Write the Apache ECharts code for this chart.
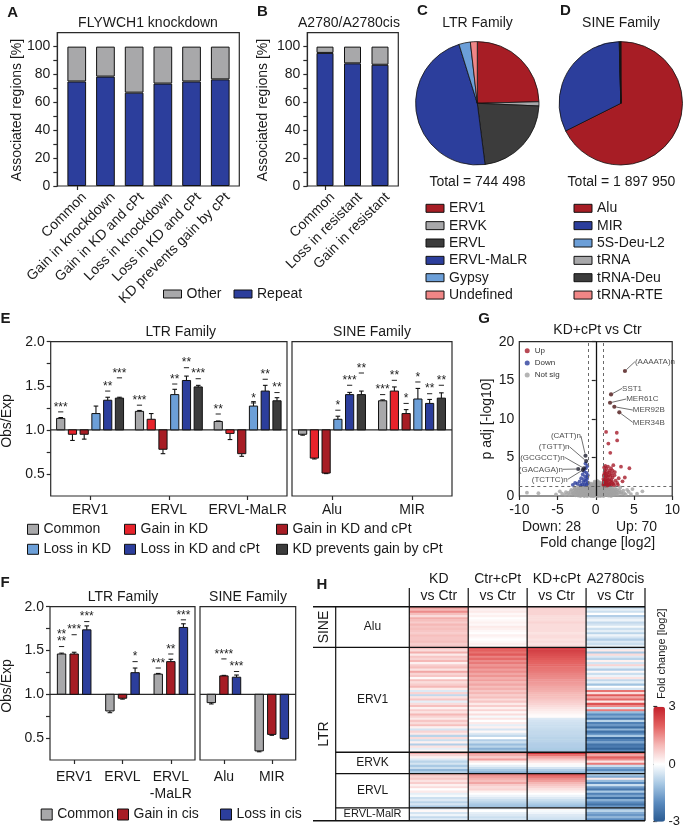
<!DOCTYPE html>
<html>
<head>
<meta charset="utf-8">
<title>Repeat association figure</title>
<script src="https://cdn.jsdelivr.net/npm/echarts@6.0.0/dist/echarts.min.js"></script>
<style>
html,body{margin:0;padding:0;background:#ffffff;}
#chart{width:683px;height:829px;}
</style>
</head>
<body>
<div id="chart"></div>
<script>
// ================= DATA =================
// Panel A
const aCategories = ['Common','Gain in knockdown','Gain in KD and cPt','Loss in knockdown','Loss in KD and cPt','KD prevents gain by cPt'];
const aRepeat = [75, 78.5, 67, 73.5, 75, 76.5];
const aOther  = [25, 21.5, 33, 26.5, 25, 23.5];
// Panel B
const bCategories = ['Common','Loss in resistant','Gain in resistant'];
const bRepeat = [95.5, 88, 87];
const bOther  = [4.5, 12, 13];
const yPercentTicks = [0,10,20,30,40,50,60,70,80,90,100];
const yPercentLabels = [0,20,40,60,80,100];
// Panel C / D
const ltrNames = ['ERV1','ERVK','ERVL','ERVL-MaLR','Gypsy','Undefined'];
const ltrShare = [24.6, 1.1, 22.3, 47.2, 3.0, 1.8];
const ltrTotal = 744498;
const sineNames = ['Alu','MIR','5S-Deu-L2','tRNA','tRNA-Deu','tRNA-RTE'];
const sineShare = [67.6, 32.0, 0.1, 0.1, 0.15, 0.05];
const sineTotal = 1897950;
// Panel E  (groups: ERV1, ERVL, ERVL-MaLR | Alu, MIR)
const eLtrGroups = ['ERV1','ERVL','ERVL-MaLR'];
const eSineGroups = ['Alu','MIR'];
const eSeriesNames = ['Common','Gain in KD','Gain in KD and cPt','Loss in KD','Loss in KD and cPt','KD prevents gain by cPt'];
const eCommon     = [1.13, 1.21, 1.095, 0.95, 1.33];
const eGainKD     = [0.95, 1.12, 0.96, 0.68, 1.44];
const eGainKDcPt  = [0.95, 0.78, 0.73, 0.51, 1.185];
const eLossKD     = [1.185, 1.40, 1.27, 1.12, 1.35];
const eLossKDcPt  = [1.336, 1.56, 1.44, 1.40, 1.30];
const eKDprevents = [1.36, 1.487, 1.33, 1.40, 1.36];
const eCommonErr     = [0.01, 0.01, 0.006, 0.01, 0.01];
const eGainKDErr     = [0.07, 0.065, 0.07, 0.01, 0.047];
const eGainKDcPtErr  = [0.055, 0.05, 0.03, 0.006, 0.045];
const eLossKDErr     = [0.085, 0.06, 0.05, 0.035, 0.12];
const eLossKDcPtErr  = [0.034, 0.05, 0.065, 0.025, 0.045];
const eKDpreventsErr = [0.01, 0.018, 0.035, 0.04, 0.06];
const eCommonSig     = [['***',1.204],['***',1.28],['**',1.18],null,['***',1.40]];
const eGainKDSig     = [null,null,null,null,['**',1.562]];
const eGainKDcPtSig  = [null,null,null,null,['*',1.30]];
const eLossKDSig     = [null,['**',1.52],['*',1.305],['*',1.223],['*',1.543]];
const eLossKDcPtSig  = [['**',1.44],['**',1.705],['**',1.574],['***',1.506],['**',1.41]];
const eKDpreventsSig = [['***',1.59],['***',1.58],['**',1.423],['**',1.645],['**',1.506]];
const obsExpTicks = [0.5,0.75,1,1.25,1.5,1.75,2];
const obsExpLabels = [0.5,1,1.5,2];
// Panel F
const fLtrGroups = ['ERV1','ERVL','ERVL\n-MaLR'];
const fSineGroups = ['Alu','MIR'];
const fSeriesNames = ['Common','Gain in cis','Loss in cis'];
const fCommon = [1.46, 0.81, 1.23, 0.905, 0.354];
const fGain   = [1.46, 0.955, 1.373, 1.21, 0.542];
const fLoss   = [1.736, 1.247, 1.763, 1.195, 0.496];
const fCommonErr = [0.01, 0.02, 0.008, 0.015, 0.01];
const fGainErr   = [0.02, 0.01, 0.027, 0.006, 0.01];
const fLossErr   = [0.045, 0.053, 0.042, 0.025, 0.006];
const fCommonSig = [['**\n**',1.545], null, ['***',1.30], null, null];
const fGainSig   = [['***',1.68], null, ['**',1.46], ['****',1.404], null];
const fLossSig   = [['***',1.83], ['*',1.373], ['***',1.85], ['***',1.26], null];
// Panel G (volcano: fold change log2, -log10 padj)
const gUp = [
[1.35,8.3],[2.75,8.2],[2.8,7.2],[1.65,6.8],[1.9,5.6],[3.3,3.8],[4.4,3.6],[2.3,4.0],
[1.1,3.7],[1.25,3.9],[1.4,3.5],[1.6,3.8],[1.8,3.3],[2.0,3.6],[1.15,3.1],[1.3,2.9],
[1.5,3.0],[1.7,2.7],[2.1,2.9],[2.5,3.1],[1.05,2.6],[1.2,2.4],[1.35,2.2],[1.55,2.5],
[1.8,2.2],[2.2,2.4],[2.6,2.0],[3.0,2.3],[1.1,2.0],[1.25,1.9],[1.4,1.8],[1.6,1.7],
[1.9,1.9],[2.3,1.6],[2.8,1.7],[3.5,1.9],[1.05,1.6],[1.2,1.55],[1.35,1.5],[1.5,1.45],
[1.7,1.5],[2.0,1.4],[2.4,1.4],[1.15,1.4],[1.3,1.65],[1.45,2.0],[1.0,1.45],[1.85,1.6],
[2.15,1.75],[1.6,2.1],[1.95,2.6],[2.45,2.7],[1.1,2.8],[1.75,3.05],[3.8,2.4],[2.9,1.45],
[1.05,1.85],[1.25,1.35],[1.5,1.35],[1.8,1.4],[2.05,2.05],[1.4,2.6],[1.2,3.3],[2.2,3.3],[1.0,2.2]
];
const gDown = [
[-1.1,3.9],[-1.3,3.6],[-1.5,3.2],[-1.2,3.0],[-1.05,2.7],[-1.4,2.5],[-1.7,2.8],[-1.9,2.3],
[-1.15,2.2],[-1.3,1.95],[-1.6,1.8],[-2.1,1.9],[-2.4,1.6],[-1.05,1.7],[-1.2,1.5],[-1.45,1.45],
[-1.8,1.5],[-2.7,1.7],[-3.0,1.45],[-1.1,2.45],[-1.55,2.1],[-2.0,1.4],[-1.35,4.2]
];
const gNotSig = [
[-9.0,0.43],[-7.5,0.37],[-5.2,0.2],[-4.4,0.3],[-3.9,0.5],[-3.5,0.15],[-3.2,0.8],[-3.0,0.35],[-2.8,1.1],[-2.7,0.6],
[-2.6,0.2],[-2.5,0.9],[-2.4,0.45],[-2.3,1.2],[-2.2,0.7],[-2.1,0.25],[-2.0,1.0],[-2.0,0.5],[-1.9,0.8],[-1.9,0.15],
[-1.8,1.15],[-1.8,0.4],[-1.7,0.65],[-1.7,0.1],[-1.6,0.95],[-1.6,0.3],[-1.5,1.25],[-1.5,0.55],[-1.4,0.8],[-1.4,0.2],
[-1.35,1.05],[-1.3,0.45],[-1.25,0.7],[-1.2,0.1],[-1.15,0.9],[-1.1,0.35],[-1.05,1.2],[-1.0,0.6],[-0.95,1.5],[-0.9,0.25],
[-0.9,0.85],[-0.85,1.1],[-0.8,0.45],[-0.75,0.05],[-0.7,1.35],[-0.7,0.7],[-0.65,0.3],[-0.6,0.95],[-0.55,1.6],[-0.5,0.5],
[-0.5,0.15],[-0.45,1.2],[-0.4,0.8],[-0.35,0.35],[-0.3,1.45],[-0.3,0.6],[-0.25,0.05],[-0.2,1.0],[-0.15,0.4],[-0.1,1.7],
[-0.1,0.75],[-0.05,0.2],[0.0,1.25],[0.05,0.55],[0.1,0.9],[0.1,0.1],[0.15,1.5],[0.2,0.35],[0.25,1.1],[0.3,0.65],
[0.3,0.05],[0.35,1.8],[0.4,0.45],[0.45,0.95],[0.5,1.3],[0.5,0.2],[0.55,0.7],[0.6,1.55],[0.65,0.4],[0.7,1.05],
[0.7,0.1],[0.75,0.8],[0.8,1.4],[0.85,0.3],[0.9,0.6],[0.9,1.15],[0.95,0.2],[1.0,0.9],[1.05,0.45],[1.1,1.2],
[1.15,0.7],[1.2,0.15],[1.25,1.0],[1.3,0.5],[1.35,0.85],[1.4,0.25],[1.5,1.1],[1.55,0.6],[1.6,0.35],[1.7,0.9],
[1.75,0.1],[1.8,1.2],[1.85,0.55],[1.9,0.3],[2.0,0.8],[2.1,1.05],[2.2,0.4],[2.3,0.7],[2.4,0.15],[2.5,1.0],
[2.6,0.5],[2.7,0.25],[2.8,0.85],[3.0,0.45],[3.2,1.1],[3.4,0.3],[3.6,0.7],[3.9,0.2],[4.3,0.55],[4.8,0.9],
[5.4,0.3],[6.1,0.6],[-1.45,0.05],[-2.3,0.05],[1.65,0.05],[0.2,1.95],[-0.2,1.3],[0.6,0.0],[-0.6,0.0],[-1.1,0.0],
[-3.1,0.25],[-2.95,0.7],[-2.85,0.4],[-2.75,0.95],[-2.65,0.1],[-2.55,0.55],[-2.45,0.75],[-2.35,0.3],[-2.25,0.95],[-2.15,0.5],
[-2.05,0.15],[-1.95,0.6],[-1.85,0.9],[-1.75,0.3],[-1.65,1.2],[-1.55,0.75],[-1.45,0.4],[-1.35,0.6],[-1.3,0.95],[-1.25,0.25],
[-1.2,0.75],[-1.15,0.5],[-1.1,1.1],[-1.05,0.15],[-1.0,0.35],[-0.95,0.8],[-0.9,0.5],[-0.85,0.2],[-0.8,0.95],[-0.8,1.3],
[-0.75,0.6],[-0.7,0.3],[-0.65,0.85],[-0.6,0.55],[-0.6,1.2],[-0.55,0.25],[-0.5,0.85],[-0.45,0.6],[-0.4,0.1],[-0.4,1.4],
[-0.35,0.9],[-0.3,0.25],[-0.25,0.7],[-0.2,0.45],[-0.2,1.55],[-0.15,0.8],[-0.1,0.3],[-0.05,1.0],[-0.05,0.55],[0.0,0.15],
[0.0,0.8],[0.05,1.45],[0.1,0.4],[0.15,0.7],[0.15,0.2],[0.2,1.05],[0.25,0.5],[0.3,0.85],[0.35,0.3],[0.4,1.25],
[0.4,0.7],[0.45,0.15],[0.5,0.55],[0.55,1.0],[0.6,0.3],[0.65,0.75],[0.7,0.5],[0.75,1.2],[0.8,0.2],[0.85,0.65],
[0.9,0.4],[0.95,0.95],[1.0,0.25],[1.05,0.7],[1.1,0.5],[1.15,1.0],[1.2,0.35],[1.25,0.8],[1.3,0.15],[1.35,0.55],
[1.4,1.1],[1.45,0.7],[1.5,0.3],[1.55,0.9],[1.6,0.55],[1.7,0.3],[1.75,0.75],[1.8,0.45],[1.9,0.95],[1.95,0.2],
[2.0,0.55],[2.1,0.3],[2.2,0.9],[2.3,0.2],[2.4,0.6],[2.5,0.35],[2.6,0.8],[2.75,0.55],[2.9,0.2],[3.1,0.7],
[-3.3,0.55],[-3.6,0.4],[-4.0,0.15],[-4.7,0.6],[3.3,0.5],[3.7,0.35],[4.1,0.8],[4.6,0.25],[-0.9,1.7],[0.8,1.65],
[-0.5,1.05],[0.25,0.0],[-0.3,0.0],[1.0,0.0],[-1.5,0.0],[-2.0,0.0],[2.0,0.0],[-0.15,1.85],[0.5,1.75],[-0.7,1.55]
];
const gLabelNames = ['(AAAATA)n','SST1','MER61C','MER92B','MER34B','(CATT)n','(TGTT)n','(GCGCCT)n','(GACAGA)n','(TCTTC)n'];
const gLabelX = [3.82, 2.0, 1.87, 2.43, 3.08, -1.34, -1.25, -1.55, -2.3, -1.7];
const gLabelY = [16.2, 13.17, 12.09, 11.57, 10.84, 5.22, 4.53, 3.59, 3.5, 3.37];
const gLabelIsUp = [1,1,1,1,1,0,0,0,0,0];
// Panel H (fold change log2 per repeat, per comparison)
const hColumns = ['KD\nvs Ctr','Ctr+cPt\nvs Ctr','KD+cPt\nvs Ctr','A2780cis\nvs Ctr'];
const hSections = ['Alu','ERV1','ERVK','ERVL','ERVL-MalR'];
const hFamilies = ['SINE','LTR'];
const aluKD     = [1.4,1.0,1.5,0.9,0.5,1.1,0.9,0.7,1.0,0.8,0.9,0.8,0.7,0.9,0.8,0.8,0.9,0.7,0.8];
const aluCtrCpt = [0.4,0.2,0.3,0.1,0.2,0.0,0.1,0.2,0.1,0.3,0.2,0.1,0.0,0.2,0.1,0.0,0.1,0.2,0.1];
const aluKDCpt  = [0.7,0.6,0.6,0.6,0.5,0.5,0.5,0.6,0.5,0.5,0.5,0.5,0.4,0.5,0.5,0.4,0.5,0.4,0.5];
const aluCis    = [-0.8,-0.3,-0.6,0.0,-0.9,-0.4,-0.2,-0.7,-0.5,-0.1,-0.6,-0.3,-0.8,-0.2,-0.5,-0.9,-0.4,-0.6,-0.3];
const erv1KD     = [0.9,0.5,1.1,0.3,0.8,0.6,1.0,0.2,0.7,0.9,0.4,1.2,0.6,0.8,0.1,0.9,0.5,0.7,1.0,0.3,-0.4,0.6,-0.7,0.4,0.8,-0.3,0.5,0.9,0.2,0.7,0.4,1.0,0.6,0.3,0.8,0.5,0.9,0.2,-0.5,0.6,0.3,-0.8,0.5,-0.6,0.2,-0.9,0.4,-0.3,0.1];
const erv1CtrCpt = [2.3,2.0,1.8,2.1,1.6,1.9,1.5,1.7,1.4,1.6,1.3,1.5,1.2,1.4,1.1,1.3,1.0,1.2,0.9,1.1,0.8,1.0,0.7,0.9,0.5,0.8,0.3,0.7,0.2,0.6,0.1,0.5,-0.1,0.4,0.0,0.3,-0.3,0.2,-0.5,0.1,-0.4,-0.7,0.0,-0.9,-0.6,-1.2,-0.8,-1.4,-1.0];
const erv1KDCpt  = [2.6,2.5,2.4,2.3,2.2,2.1,2.0,1.95,1.9,1.8,1.75,1.7,1.6,1.55,1.5,1.4,1.35,1.3,1.2,1.15,1.1,1.0,0.95,0.9,0.8,0.7,0.6,0.5,0.4,0.3,0.2,0.1,0.05,-0.4,-0.5,-0.55,-0.6,-0.6,-0.65,-0.7,-0.7,-0.75,-0.8,-0.8,-0.85,-0.9,-0.9,-0.95,-1.0];
const erv1Cis    = [-0.6,0.3,-1.0,0.5,-0.4,-0.8,0.2,-0.5,0.6,-0.3,-0.9,0.1,-0.6,-0.2,0.4,-0.7,-0.3,-1.1,0.0,-0.5,1.8,0.5,2.1,1.2,1.9,0.3,2.2,1.5,-0.4,1.7,-1.2,-2.0,-1.5,-2.4,-0.8,-2.2,-1.8,-2.6,-1.3,-2.5,-2.0,-1.0,-2.7,-2.2,-1.6,-2.5,-2.3,-2.8,-2.0];
const ervkKD     = [1.2,0.6,0.2,-0.4,-0.8,-0.5,-1.0,-0.6,-1.3,-0.9];
const ervkCtrCpt = [1.5,1.1,0.7,1.3,0.3,0.0,-0.3,-0.6,-1.0,-1.4];
const ervkKDCpt  = [2.8,1.8,1.2,0.8,0.4,0.1,-0.1,-0.5,-0.9,-1.3];
const ervkCis    = [1.8,1.2,2.0,1.5,0.4,1.7,-0.6,-1.5,-2.0,-1.2];
const ervlKD     = [1.0,0.6,0.8,0.4,0.7,0.2,0.5,0.0,0.3,-0.3,-0.1,-0.6,-0.4,-0.8,-0.5,-1.0];
const ervlCtrCpt = [1.6,1.3,1.1,0.9,1.2,0.7,0.5,0.6,0.2,0.0,-0.2,-0.4,-0.6,-0.8,-1.0,-1.1];
const ervlKDCpt  = [2.2,1.8,1.5,1.3,1.0,0.8,0.6,0.4,0.2,0.0,-0.2,-0.4,-0.6,-0.8,-1.0,-1.2];
const ervlCis    = [-0.8,-1.5,0.3,-1.2,-2.0,-0.6,-1.8,-2.4,-1.0,-2.2,-1.6,-2.6,-1.4,-2.0,-2.5,-1.8];
const malrKD     = [-0.3,0.1,-0.5,-0.2,-0.7,-0.4];
const malrCtrCpt = [-0.2,0.0,-0.3,-0.4,-0.6,-0.5];
const malrKDCpt  = [0.1,-0.1,-0.2,-0.4,-0.5,-0.6];
const malrCis    = [-1.2,-0.8,-1.5,-1.8,-1.3,-2.0];

// ================= STYLE =================
const FONT = '"Liberation Sans", Arial, Helvetica, sans-serif';
const INK = '#1a1a1a';
const LINE = '#2a2a2a';
const COL = {blue:'#2c3e9c', grey:'#a8a8aa', dred:'#a71d25', red:'#e7232b', lblue:'#6c9fd8', dgrey:'#3c3c3c', pink:'#f08686'};
const ltrColors  = [COL.dred, COL.grey, COL.dgrey, COL.blue, COL.lblue, COL.pink];
const sineColors = [COL.dred, COL.blue, COL.lblue, COL.grey, COL.dgrey, COL.pink];
const eColors = [COL.grey, COL.red, COL.dred, COL.lblue, COL.blue, COL.dgrey];
const fColors = [COL.grey, COL.dred, COL.blue];
const heatColors = ['#2a5a91','#5a8bbf','#a9c9e4','#ffffff','#f5b8b6','#e3605f','#c3202b'];
// label offsets (px) for volcano labels, relative to their point
const gLabelOffsets = [[30,-9.3],[21,-6],[32.3,-3.7],[34.5,3.3],[29.5,10],[-19.6,-19.7],[-32,-14.3],[-41.5,-11],[-37.3,0.3],[-33,9.3]];

const frame = {show:true, borderColor:LINE, borderWidth:1.2, backgroundColor:'rgba(0,0,0,0)'};
const tickSt = {show:true, length:4, lineStyle:{color:LINE, width:1.2}};
const lbl = (o) => Object.assign({fontSize:14, color:INK, fontFamily:FONT}, o || {});

// ================= GRIDS / AXES =================
const grids = [
  {left:62.4, top:32.7, width:172.2, height:153.3},            // 0 A data
  Object.assign({left:57.3, top:32.7, width:182, height:153.3}, frame), // 1 A frame
  {left:311.25, top:32.7, width:82.5, height:153.3},           // 2 B data
  Object.assign({left:307.3, top:32.7, width:91, height:153.3}, frame), // 3 B frame
  Object.assign({left:50.7, top:341.7, width:236.3, height:154.3}, frame), // 4 E LTR
  Object.assign({left:292, top:341.7, width:160, height:154.3}, frame),    // 5 E SINE
  Object.assign({left:50, top:606.7, width:145, height:153.3}, frame),     // 6 F LTR
  Object.assign({left:200, top:606.7, width:95.7, height:153.3}, frame),   // 7 F SINE
  Object.assign({left:519.3, top:341.7, width:154, height:154.3}, frame),  // 8 G
  {left:409.3, top:606.7, width:235.7, height:214},            // 9 H heatmap
  {left:653.3, top:706.7, width:11.7, height:115},             // 10 colour bar axis
  {left:69.9, top:32.7, width:172.2, height:153.3},            // 11 A labels
  {left:318.75, top:32.7, width:82.5, height:153.3}            // 12 B labels
];
const hid = (type, g) => ({type, gridIndex:g, show:false});
const catBase = (g, data, extra) => Object.assign({type:'category', gridIndex:g, data, axisLine:{show:false}, axisTick:Object.assign({alignWithLabel:true}, tickSt), splitLine:{show:false}}, extra || {});

const xAxes = [
  catBase(0, aCategories, {axisLabel:{show:false}}),
  hid('value',1),
  catBase(2, bCategories, {axisLabel:{show:false}}),
  hid('value',3),
  catBase(4, eLtrGroups, {axisLabel:lbl({margin:7, interval:0})}),
  catBase(5, eSineGroups, {axisLabel:lbl({margin:7, interval:0})}),
  catBase(6, fLtrGroups, {axisLabel:lbl({margin:8, interval:0, lineHeight:17.3})}),
  catBase(7, fSineGroups, {axisLabel:lbl({margin:8, interval:0, lineHeight:17.3})}),
  {type:'value', gridIndex:8, min:-10, max:10, interval:5, axisLine:{show:false}, axisTick:tickSt, splitLine:{show:false}, axisLabel:lbl({margin:7})},
  {type:'category', gridIndex:9, data:hColumns, position:'top', axisLine:{show:false}, axisTick:{show:false}, splitLine:{show:false}, axisLabel:lbl({margin:1.5, interval:0, lineHeight:17.4})},
  hid('value',10),
  {type:'category', gridIndex:11, data:aCategories, axisLine:{show:false}, axisTick:{show:false}, axisLabel:lbl({rotate:45, margin:9, interval:0})},
  {type:'category', gridIndex:12, data:bCategories, axisLine:{show:false}, axisTick:{show:false}, axisLabel:lbl({rotate:45, margin:9, interval:0})}
];
const pctAxis = (g, off) => ({type:'value', gridIndex:g, min:0, max:110, interval:20, offset:off,
  axisLine:{show:true, lineStyle:{color:LINE, width:1.2}},
  axisTick:Object.assign({customValues:yPercentTicks}, tickSt),
  axisLabel:lbl({margin:7, customValues:yPercentLabels}), splitLine:{show:false}});
const oeAxis = (g, show) => ({type:'value', gridIndex:g, min:0.25, max:2, show,
  axisLine:{show:false}, axisTick:Object.assign({customValues:obsExpTicks}, tickSt),
  axisLabel:lbl({margin:6, customValues:obsExpLabels, formatter:(v)=>Number(v).toFixed(1)}), splitLine:{show:false}});

// heatmap rows
const hSectionData = [
  [aluKD, aluCtrCpt, aluKDCpt, aluCis],
  [erv1KD, erv1CtrCpt, erv1KDCpt, erv1Cis],
  [ervkKD, ervkCtrCpt, ervkKDCpt, ervkCis],
  [ervlKD, ervlCtrCpt, ervlKDCpt, ervlCis],
  [malrKD, malrCtrCpt, malrKDCpt, malrCis]
];
const heatData = [], rowIds = [], sectionStarts = [];
let rowN = 0;
hSectionData.forEach((cols, s) => {
  sectionStarts.push(rowN);
  cols[0].forEach((_, r) => {
    rowIds.push(hSections[s] + ' ' + (r + 1));
    cols.forEach((arr, c) => heatData.push([c, rowN, arr[r]]));
    rowN++;
  });
});
sectionStarts.push(rowN);

const yAxes = [
  pctAxis(0, 5.1),
  hid('value',1),
  pctAxis(2, 3.95),
  hid('value',3),
  oeAxis(4, true),
  oeAxis(5, false),
  oeAxis(6, true),
  oeAxis(7, false),
  {type:'value', gridIndex:8, min:0, max:20, interval:5, axisLine:{show:false}, axisTick:tickSt, splitLine:{show:false}, axisLabel:lbl({margin:5})},
  {type:'category', gridIndex:9, data:rowIds, inverse:true, show:false},
  {type:'value', gridIndex:10, min:-3, max:3, interval:3, position:'right', axisLine:{show:false}, axisTick:tickSt, splitLine:{show:false}, axisLabel:lbl({margin:6, fontSize:13})},
  hid('value',11),
  hid('value',12)
];

// ================= SERIES =================
function groupedBars(name, color, sIdx, nSer, step, bw, axis, vals, errs, sigs, drawBase) {
  return {
    type:'custom', name, xAxisIndex:axis, yAxisIndex:axis, clip:false, silent:true,
    itemStyle:{color},
    encode:{x:0, y:1},
    data: vals.map((v, i) => [i, v, errs[i]]),
    renderItem: function (params, api) {
      const i = params.dataIndex;
      const cat = api.value(0), v = api.value(1), e = api.value(2);
      const pb = api.coord([cat, 1]);
      const cx = pb[0] + (sIdx - (nSer - 1) / 2) * step;
      const yv = api.coord([cat, v])[1];
      const ye = api.coord([cat, v >= 1 ? v + e : v - e])[1];
      const ch = [];
      ch.push({type:'line', shape:{x1:cx, y1:yv, x2:cx, y2:ye}, style:{stroke:'#111', lineWidth:1.1}});
      ch.push({type:'line', shape:{x1:cx-2.3, y1:ye, x2:cx+2.3, y2:ye}, style:{stroke:'#111', lineWidth:1.1}});
      ch.push({type:'rect', shape:{x:cx-bw/2, y:Math.min(pb[1], yv), width:bw, height:Math.abs(pb[1]-yv)}, style:{fill:color, stroke:'#111', lineWidth:1}});
      if (drawBase && i === 0) {
        const cs = params.coordSys;
        ch.push({type:'line', shape:{x1:cs.x, y1:pb[1], x2:cs.x+cs.width, y2:pb[1]}, style:{stroke:LINE, lineWidth:1.2}});
      }
      const sg = sigs[i];
      if (sg) {
        const yd = api.coord([cat, sg[1]])[1];
        ch.push({type:'line', shape:{x1:cx-2.6, y1:yd, x2:cx+2.6, y2:yd}, style:{stroke:'#222', lineWidth:1}});
        sg[0].split('\n').reverse().forEach((t, k) => {
          ch.push({type:'text', x:cx, y:yd - 4.6 - k * 7.3, style:{text:t, fill:'#222', font:'12px ' + FONT, align:'center', verticalAlign:'middle', textAlign:'center', textVerticalAlign:'middle'}});
        });
      }
      return {type:'group', children:ch};
    }
  };
}

const series = [];
// A & B stacked bars
series.push({type:'bar', name:'Repeat', xAxisIndex:0, yAxisIndex:0, stack:'a', barWidth:18.7, data:aRepeat, itemStyle:{color:COL.blue, borderColor:'#111', borderWidth:1}, silent:true});
series.push({type:'bar', name:'Other', xAxisIndex:0, yAxisIndex:0, stack:'a', barWidth:18.7, data:aOther, itemStyle:{color:COL.grey, borderColor:'#111', borderWidth:1}, silent:true});
series.push({type:'bar', name:'Repeat', xAxisIndex:2, yAxisIndex:2, stack:'b', barWidth:17, data:bRepeat, itemStyle:{color:COL.blue, borderColor:'#111', borderWidth:1}, silent:true});
series.push({type:'bar', name:'Other', xAxisIndex:2, yAxisIndex:2, stack:'b', barWidth:17, data:bOther, itemStyle:{color:COL.grey, borderColor:'#111', borderWidth:1}, silent:true});
// C & D pies
const pieBase = {type:'pie', radius:61.7, startAngle:90, clockwise:true, label:{show:false}, labelLine:{show:false}, silent:true,
  itemStyle:{borderColor:'#111', borderWidth:0.8}, emphasis:{disabled:true}};
series.push(Object.assign({}, pieBase, {name:'LTR Family', center:[477.3,103.3], data:ltrNames.map((n,i)=>({name:n, value:ltrShare[i], itemStyle:{color:ltrColors[i]}}))}));
series.push(Object.assign({}, pieBase, {name:'SINE Family', center:[620.8,103.3], data:sineNames.map((n,i)=>({name:n, value:sineShare[i], itemStyle:{color:sineColors[i]}}))}));
// E grouped bars
const eVals = [eCommon, eGainKD, eGainKDcPt, eLossKD, eLossKDcPt, eKDprevents];
const eErrs = [eCommonErr, eGainKDErr, eGainKDcPtErr, eLossKDErr, eLossKDcPtErr, eKDpreventsErr];
const eSigs = [eCommonSig, eGainKDSig, eGainKDcPtSig, eLossKDSig, eLossKDcPtSig, eKDpreventsSig];
eSeriesNames.forEach((n, s) => {
  series.push(groupedBars(n, eColors[s], s, 6, 11.75, 8.2, 4, eVals[s].slice(0,3), eErrs[s].slice(0,3), eSigs[s].slice(0,3), s === 0));
  series.push(groupedBars(n, eColors[s], s, 6, 11.75, 8.2, 5, eVals[s].slice(3), eErrs[s].slice(3), eSigs[s].slice(3), s === 0));
});
// F grouped bars
const fVals = [fCommon, fGain, fLoss];
const fErrs = [fCommonErr, fGainErr, fLossErr];
const fSigs = [fCommonSig, fGainSig, fLossSig];
fSeriesNames.forEach((n, s) => {
  series.push(groupedBars(n, fColors[s], s, 3, 12.6, 8.4, 6, fVals[s].slice(0,3), fErrs[s].slice(0,3), fSigs[s].slice(0,3), s === 0));
  series.push(groupedBars(n, fColors[s], s, 3, 12.6, 8.4, 7, fVals[s].slice(3), fErrs[s].slice(3), fSigs[s].slice(3), s === 0));
});
// G volcano
const dashSt = {type:[3,3], color:'#6a6a6a', width:1};
series.push({type:'scatter', name:'Not sig', xAxisIndex:8, yAxisIndex:8, data:gNotSig, symbolSize:3.8, itemStyle:{color:'#a2a2a2'}, silent:true,
  markLine:{silent:true, symbol:'none', animation:false, label:{show:false},
    data:[{xAxis:-1, lineStyle:dashSt}, {xAxis:1, lineStyle:dashSt}, {yAxis:1.3, lineStyle:dashSt},
          {xAxis:0, lineStyle:{type:'solid', color:'#111', width:1.3}}]}});
series.push({type:'scatter', name:'Down', xAxisIndex:8, yAxisIndex:8, data:gDown, symbolSize:3.8, itemStyle:{color:COL.blue}, silent:true});
series.push({type:'scatter', name:'Up', xAxisIndex:8, yAxisIndex:8, data:gUp, symbolSize:3.8, itemStyle:{color:'#a61c2b'}, silent:true});
series.push({type:'scatter', name:'labelled', xAxisIndex:8, yAxisIndex:8, symbolSize:4.2, silent:true,
  data:gLabelNames.map((n,i)=>({name:n, value:[gLabelX[i], gLabelY[i]], itemStyle:{color: gLabelIsUp[i] ? '#4a1414' : '#1c1c2c'}})),
  label:{show:true, position:'inside', formatter:'{b}', fontSize:8, color:'#222', fontFamily:FONT},
  labelLine:{show:true, lineStyle:{color:'#333', width:0.7}},
  labelLayout:function(p){ const o = gLabelOffsets[p.dataIndex]; return {dx:o[0], dy:o[1]}; }});
// H heatmap
const heatIndex = series.length;
series.push({type:'heatmap', name:'Fold change', xAxisIndex:9, yAxisIndex:9, data:heatData, silent:true, itemStyle:{borderWidth:0}, emphasis:{disabled:true}, progressive:0});

// ================= LEGENDS =================
const legBase = {selectedMode:false, padding:0, icon:'rect', textStyle:{fontSize:14, color:INK, fontFamily:FONT, lineHeight:14}, itemStyle:{borderColor:'#111', borderWidth:1}};
const legends = [
  Object.assign({}, legBase, {data:['Other','Repeat'], left:163, top:287, itemWidth:18, itemHeight:8, itemGap:12}),
  Object.assign({}, legBase, {data:ltrNames, orient:'vertical', left:425.5, top:201.3, itemWidth:18, itemHeight:8, itemGap:3.35}),
  Object.assign({}, legBase, {data:sineNames, orient:'vertical', left:573.5, top:201.3, itemWidth:18, itemHeight:8, itemGap:3.35}),
  Object.assign({}, legBase, {data:['Common','Loss in KD'], orient:'vertical', left:27, top:522.3, itemWidth:11, itemHeight:10, itemGap:6}),
  Object.assign({}, legBase, {data:['Gain in KD','Loss in KD and cPt'], orient:'vertical', left:124, top:522.3, itemWidth:11, itemHeight:10, itemGap:6}),
  Object.assign({}, legBase, {data:['Gain in KD and cPt','KD prevents gain by cPt'], orient:'vertical', left:276, top:522.3, itemWidth:11, itemHeight:10, itemGap:6}),
  Object.assign({}, legBase, {data:['Common'], left:40.7, top:807.5, itemWidth:11, itemHeight:11}),
  Object.assign({}, legBase, {data:['Gain in cis'], left:117, top:807.5, itemWidth:11, itemHeight:11}),
  Object.assign({}, legBase, {data:['Loss in cis'], left:220, top:807.5, itemWidth:11, itemHeight:11}),
  {selectedMode:false, padding:0, icon:'circle', data:['Up','Down','Not sig'], orient:'vertical', left:524.7, top:344.6, itemWidth:5, itemHeight:5, itemGap:0,
   itemStyle:{borderWidth:0}, textStyle:{fontSize:8, color:'#333', fontFamily:FONT, lineHeight:12.2}}
];

// ================= TEXT =================
function txt(x, y, s, o) {
  o = o || {};
  return {type:'text', x, y, rotation:o.rot || 0, silent:true, z:100,
    style:{text:s, fill:o.color || INK, font:(o.bold ? 'bold ' : '') + (o.size || 14) + 'px ' + FONT,
      align:o.align || 'center', verticalAlign:'middle', textAlign:o.align || 'center', textVerticalAlign:'middle'}};
}
function ln(x1, y1, x2, y2, w) {
  return {type:'line', silent:true, z:100, shape:{x1, y1, x2, y2}, style:{stroke:'#111', lineWidth:w || 1.3}};
}
const fmtInt = (n) => String(n).replace(/\B(?=(\d{3})+(?!\d))/g, ' ');
const upCount = gUp.length + gLabelIsUp.filter(v => v).length;
const downCount = gDown.length + gLabelIsUp.filter(v => !v).length;
const staticText = [
  txt(7.3,12.5,'A',{bold:true,size:15,align:'left'}), txt(257,12,'B',{bold:true,size:15,align:'left'}),
  txt(417,11,'C',{bold:true,size:15,align:'left'}), txt(560,11,'D',{bold:true,size:15,align:'left'}),
  txt(0.5,318.5,'E',{bold:true,size:15,align:'left'}), txt(0.5,582.5,'F',{bold:true,size:15,align:'left'}),
  txt(478.3,319.3,'G',{bold:true,size:15,align:'left'}), txt(316.5,584.5,'H',{bold:true,size:15,align:'left'}),
  txt(148,23.3,'FLYWCH1 knockdown'), txt(349,23.3,'A2780/A2780cis'),
  txt(477.5,23.3,'LTR Family'), txt(621,23.3,'SINE Family'),
  txt(477.5,181.7,'Total = ' + fmtInt(ltrTotal)), txt(621.5,181.7,'Total = ' + fmtInt(sineTotal)),
  txt(180.8,332.3,'LTR Family'), txt(372,332.3,'SINE Family'),
  txt(123,596.7,'LTR Family'), txt(248,596.7,'SINE Family'),
  txt(597.5,330,'KD+cPt vs Ctr'),
  txt(551.5,527,'Down: ' + downCount), txt(636.5,527,'Up: ' + upCount), txt(597.5,543.3,'Fold change [log2]'),
  txt(16.7,110,'Associated regions [%]',{rot:Math.PI/2}), txt(263.3,110,'Associated regions [%]',{rot:Math.PI/2}),
  txt(7.5,421,'Obs/Exp',{rot:Math.PI/2}), txt(7.5,686,'Obs/Exp',{rot:Math.PI/2}),
  txt(486.7,419,'p adj [-log10]',{rot:Math.PI/2}),
  txt(661.7,653.7,'Fold change [log2]',{rot:Math.PI/2, size:11})
];

// ================= OPTION =================
const option = {
  animation:false,
  backgroundColor:'#ffffff',
  textStyle:{fontFamily:FONT, color:INK},
  grid:grids, xAxis:xAxes, yAxis:yAxes, series, legend:legends,
  visualMap:[{type:'continuous', seriesIndex:heatIndex, dimension:2, min:-3, max:3, calculable:false, realtime:false,
    orient:'vertical', left:653.3, top:706.7, itemWidth:11.7, itemHeight:115, padding:0, text:null, showLabel:false,
    inRange:{color:heatColors}, hoverLink:false}]
};

const chart = echarts.init(document.getElementById('chart'), null, {renderer:'canvas', width:683, height:829});
chart.setOption(option);

// ---- H table lines and labels, positioned from the heatmap's own axes ----
const c00 = chart.convertToPixel({gridIndex:9}, [0, 0]);
const c11 = chart.convertToPixel({gridIndex:9}, [1, 1]);
const cw = c11[0] - c00[0], rh = c11[1] - c00[1];
const hL = c00[0] - cw / 2, hT = c00[1] - rh / 2;
const hR = hL + hColumns.length * cw;
const rowY = (r) => hT + r * rh;
const nameColW = 73.6, famColW = 22.7, headerRise = 18.7;
const xName = hL - nameColW, xFam = xName - famColW;
const hG = [];
const hB = rowY(sectionStarts[sectionStarts.length - 1]);
sectionStarts.forEach((r, k) => {
  const full = (k === 0 || k === 1 || k === sectionStarts.length - 1);
  hG.push(ln(full ? xFam : xName, rowY(r), hR, rowY(r), 1.4));
});
hG.push(ln(xName, hT, xName, hB, 1.2));
for (let c = 0; c <= hColumns.length; c++) hG.push(ln(hL + c * cw, hT - headerRise, hL + c * cw, hB, 1.2));
hSections.forEach((s, k) => {
  const yc = (rowY(sectionStarts[k]) + rowY(sectionStarts[k + 1])) / 2;
  hG.push(txt(xName + nameColW / 2, yc, s, {size: s.length > 6 ? 11 : 12}));
});
hG.push(txt(xFam + famColW / 2, (rowY(sectionStarts[0]) + rowY(sectionStarts[1])) / 2, hFamilies[0], {rot:Math.PI/2}));
hG.push(txt(xFam + famColW / 2, (rowY(sectionStarts[1]) + hB) / 2, hFamilies[1], {rot:Math.PI/2}));

chart.setOption({graphic:{elements: staticText.concat(hG)}});
</script>
</body>
</html>
